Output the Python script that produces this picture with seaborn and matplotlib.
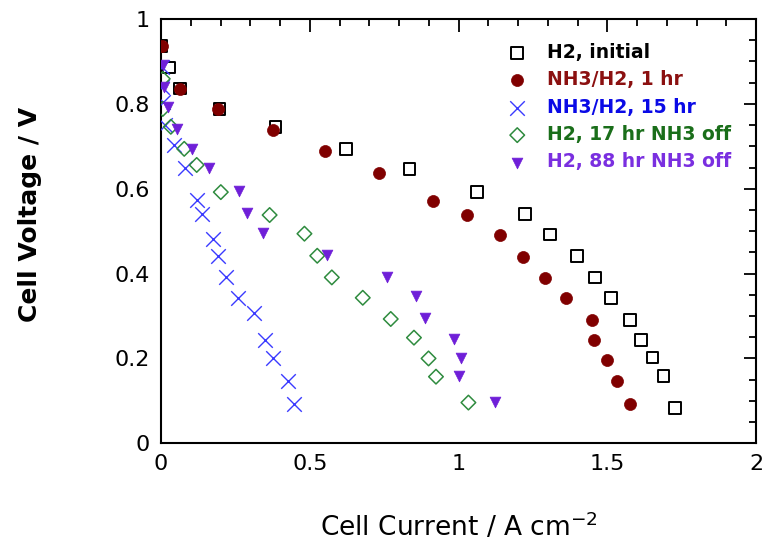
import numpy as np
import pandas as pd
import seaborn as sns
import matplotlib
matplotlib.use("Agg")
import matplotlib.pyplot as plt
from matplotlib.ticker import MultipleLocator, FuncFormatter

# current density (A cm-2) and cell voltage (V)
h2_init_i = [0.002, 0.027, 0.064, 0.196, 0.385, 0.621, 0.835, 1.061, 1.224, 1.307, 1.397, 1.459, 1.513, 1.575, 1.612, 1.651, 1.688, 1.727]
h2_init_v = [0.937, 0.886, 0.836, 0.788, 0.745, 0.693, 0.646, 0.592, 0.540, 0.492, 0.442, 0.391, 0.343, 0.291, 0.244, 0.202, 0.159, 0.083]

nh3_1hr_i = [0.002, 0.064, 0.193, 0.378, 0.552, 0.733, 0.913, 1.029, 1.139, 1.218, 1.291, 1.361, 1.449, 1.454, 1.499, 1.533, 1.576]
nh3_1hr_v = [0.937, 0.836, 0.788, 0.738, 0.690, 0.638, 0.572, 0.539, 0.491, 0.440, 0.389, 0.342, 0.291, 0.243, 0.197, 0.146, 0.093]

nh3_15hr_i = [0.002, 0.002, 0.006, 0.014, 0.045, 0.080, 0.120, 0.139, 0.176, 0.192, 0.219, 0.260, 0.313, 0.349, 0.375, 0.426, 0.448]
nh3_15hr_v = [0.886, 0.839, 0.805, 0.750, 0.702, 0.650, 0.573, 0.540, 0.482, 0.442, 0.391, 0.343, 0.307, 0.244, 0.201, 0.147, 0.093]

h2_17hr_i = [0.006, 0.006, 0.033, 0.078, 0.120, 0.201, 0.365, 0.482, 0.525, 0.574, 0.678, 0.772, 0.850, 0.899, 0.924, 1.033]
h2_17hr_v = [0.859, 0.788, 0.746, 0.694, 0.656, 0.592, 0.538, 0.494, 0.442, 0.391, 0.343, 0.293, 0.249, 0.200, 0.157, 0.096]

h2_88hr_i = [0.006, 0.010, 0.025, 0.055, 0.103, 0.160, 0.263, 0.290, 0.344, 0.557, 0.761, 0.856, 0.887, 0.986, 1.007, 1.002, 1.122]
h2_88hr_v = [0.892, 0.840, 0.793, 0.741, 0.693, 0.648, 0.594, 0.543, 0.496, 0.444, 0.392, 0.346, 0.295, 0.247, 0.200, 0.158, 0.098]

labels = ["H2, initial", "NH3/H2, 1 hr", "NH3/H2, 15 hr", "H2, 17 hr NH3 off", "H2, 88 hr NH3 off"]
text_colors = ["black", "#8b1010", "#0a0ae6", "#1a6e1a", "#7a2fe0"]

sns.set_style("white")
plt.rcParams['font.family'] = ['DejaVu Sans']
plt.rcParams['text.color'] = 'black'
plt.rcParams['axes.labelcolor'] = 'black'

fig = plt.figure(figsize=(7.74, 5.43), dpi=100)
ax = fig.add_axes([0.208, 0.1836, 0.769, 0.7814])

sns.scatterplot(x=h2_init_i, y=h2_init_v, ax=ax, marker="s", s=70,
                facecolor="none", edgecolor="black", linewidth=1.4, label=labels[0], zorder=2)
sns.scatterplot(x=nh3_1hr_i, y=nh3_1hr_v, ax=ax, marker="o", s=75,
                color="#800000", edgecolor="#800000", linewidth=0.5, label=labels[1], zorder=3)
sns.scatterplot(x=nh3_15hr_i, y=nh3_15hr_v, ax=ax, marker="x", s=110,
                color="#3a3aff", linewidth=1.0, label=labels[2], zorder=3)
sns.scatterplot(x=h2_17hr_i, y=h2_17hr_v, ax=ax, marker="D", s=55,
                facecolor="none", edgecolor="#2e8b3e", linewidth=1.1, label=labels[3], zorder=3)
sns.scatterplot(x=h2_88hr_i, y=h2_88hr_v, ax=ax, marker="v", s=60,
                color="#6f1fd8", edgecolor="#6f1fd8", linewidth=0.5, label=labels[4], zorder=4)

ax.set_xlim(0, 2)
ax.set_ylim(0, 1)
ax.xaxis.set_major_locator(MultipleLocator(0.5))
ax.xaxis.set_minor_locator(MultipleLocator(0.1))
ax.yaxis.set_major_locator(MultipleLocator(0.2))
ax.yaxis.set_minor_locator(MultipleLocator(0.05))
fmt = FuncFormatter(lambda v, p: "%g" % round(v, 2))
ax.xaxis.set_major_formatter(fmt)
ax.yaxis.set_major_formatter(fmt)
ax.tick_params(which="both", direction="in", top=True, right=True, width=1.3, colors="black")
ax.tick_params(which="major", length=9, labelsize=16, pad=8)
ax.tick_params(which="minor", length=5)
for sp in ax.spines.values():
    sp.set_color("black")
    sp.set_linewidth(1.5)

ax.set_xlabel("Cell Current / A cm$^{-2}$", fontsize=19, labelpad=27)
ax.set_ylabel("Cell Voltage / V", fontsize=18, fontweight="bold")
ax.yaxis.set_label_coords(-0.2, 0.54)

leg = ax.legend(loc="upper left", bbox_to_anchor=(0.545, 0.975), frameon=False,
                prop={"weight": "bold", "size": 13.5}, labelcolor=text_colors,
                handletextpad=0.6, labelspacing=0.45, borderpad=0.2)

fig.savefig("out.png", dpi=100)
